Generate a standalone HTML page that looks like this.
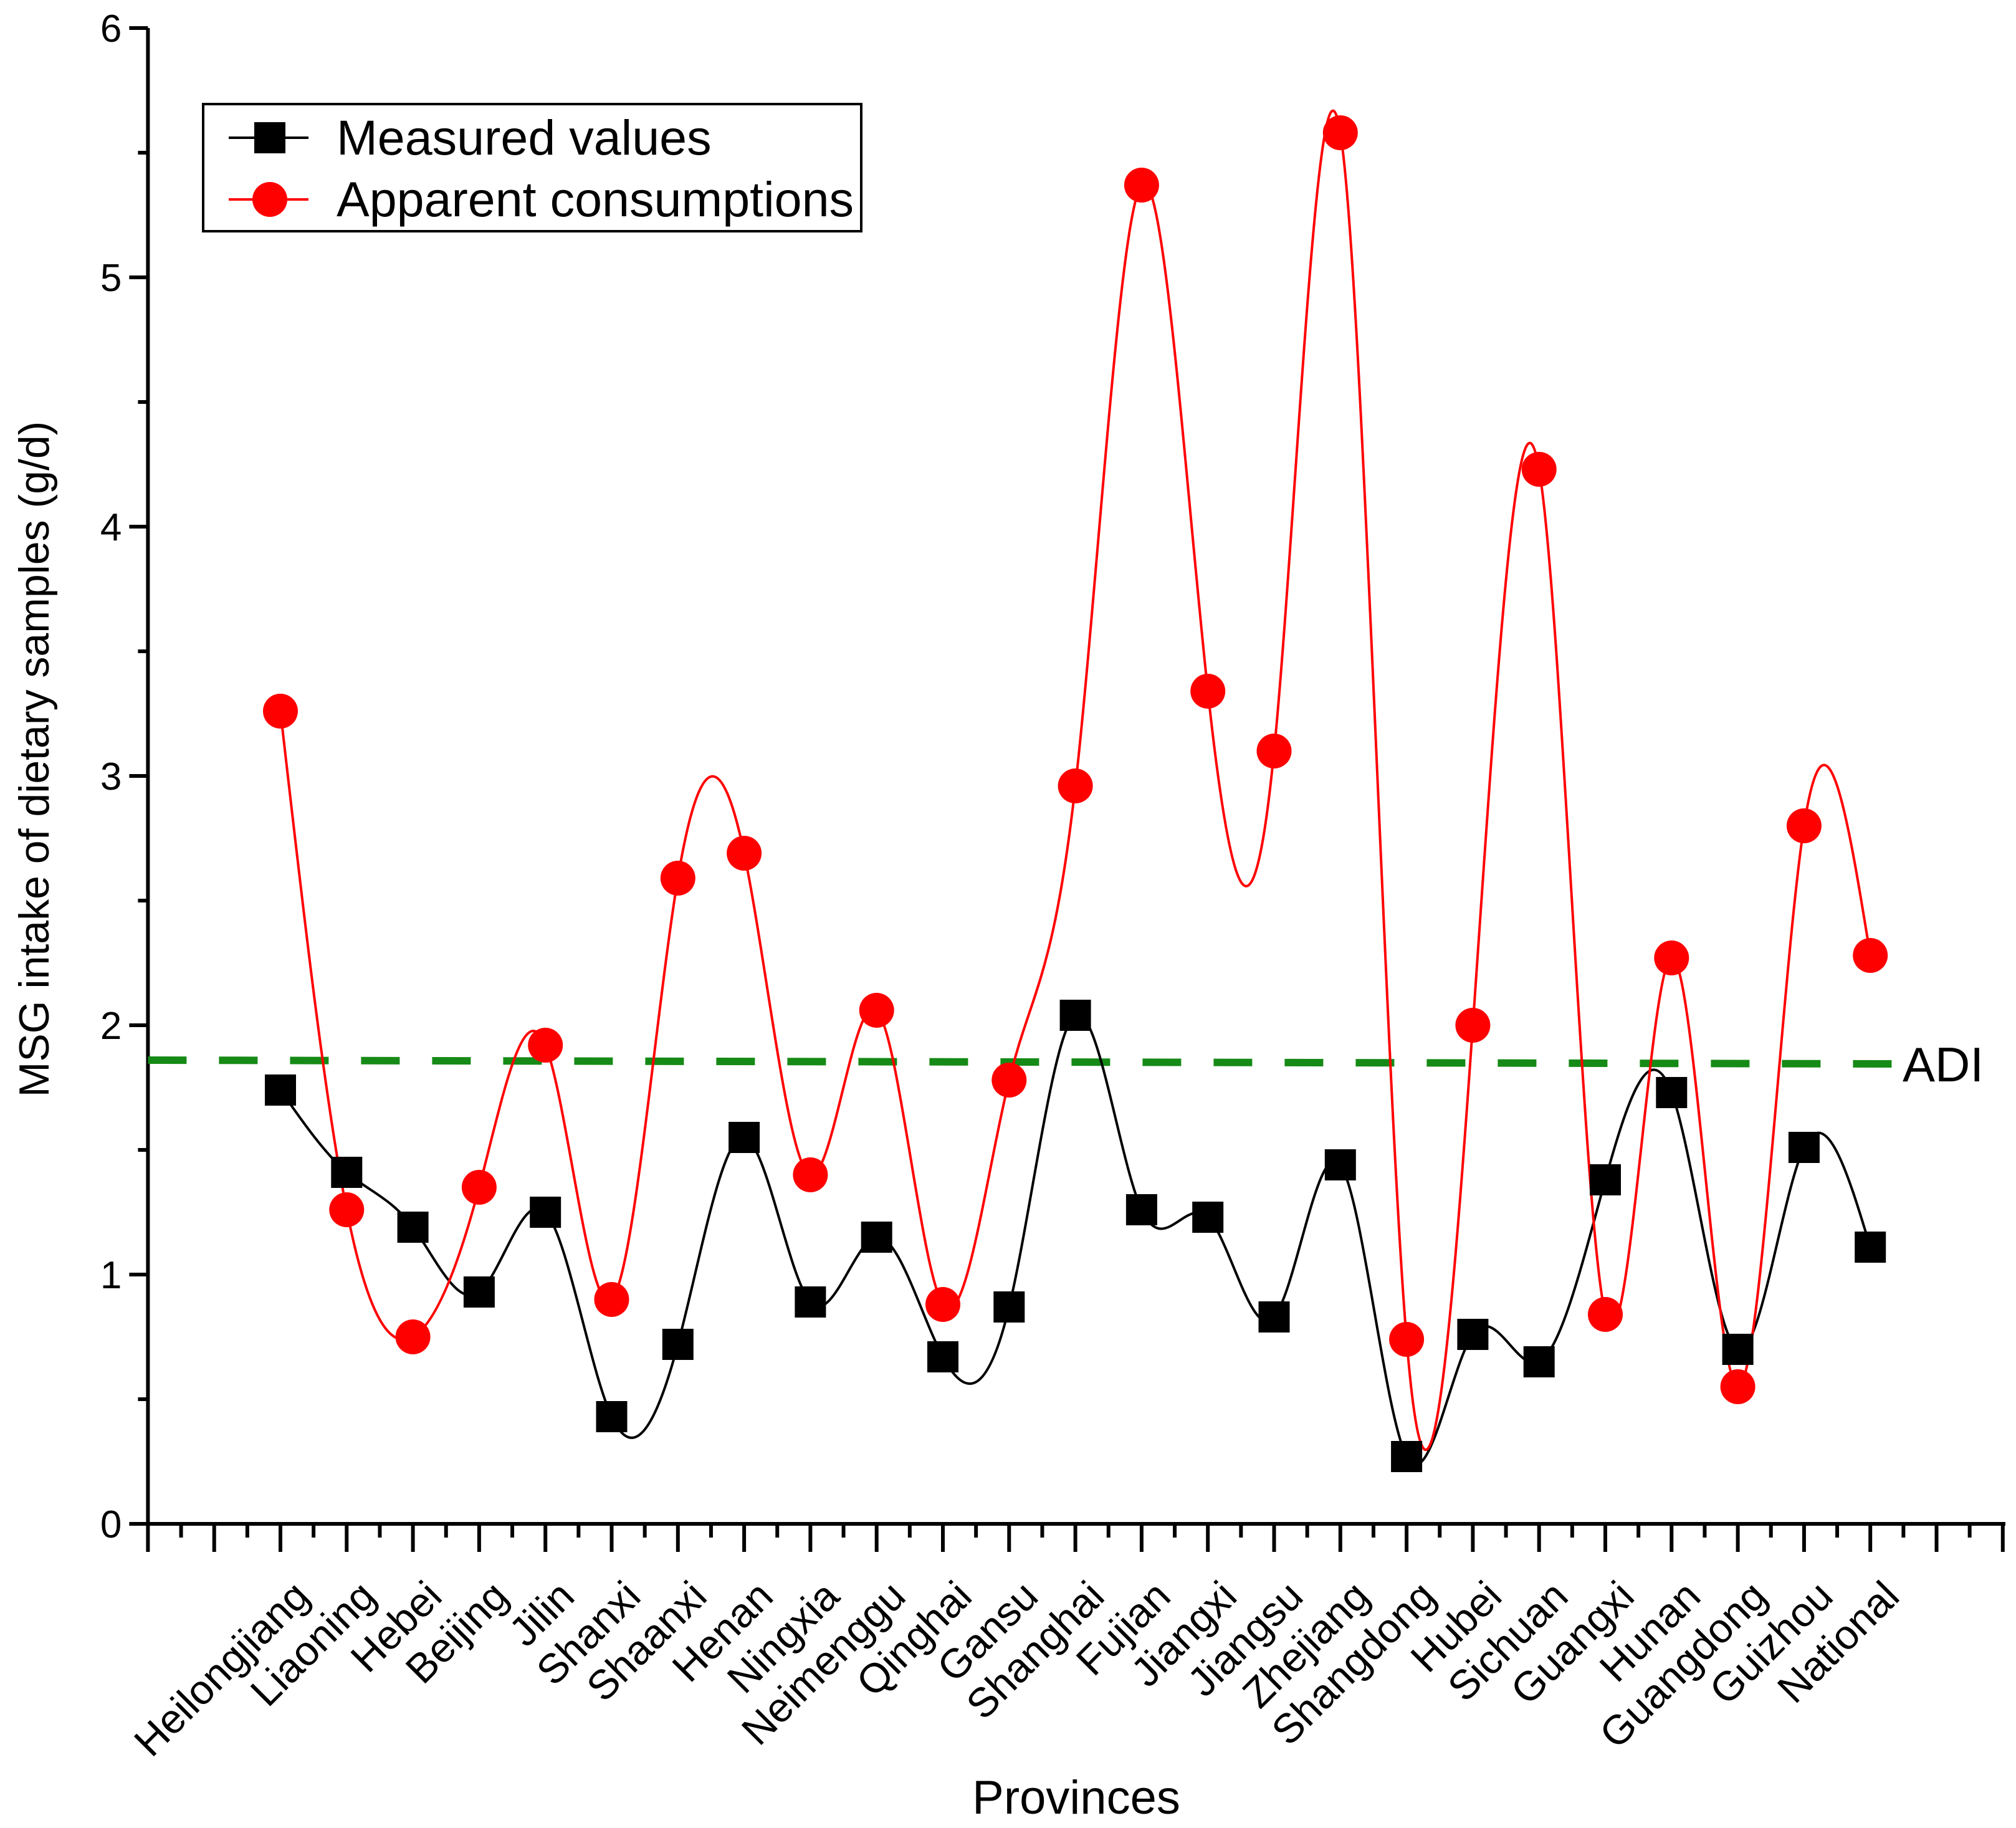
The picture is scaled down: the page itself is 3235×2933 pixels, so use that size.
<!DOCTYPE html>
<html><head><meta charset="utf-8"><style>
html,body{margin:0;padding:0;background:#fff}
svg{display:block}
text{font-family:"Liberation Sans",Arial,sans-serif;fill:#000}
</style></head><body>
<svg id="chart" width="3235" height="2933" viewBox="0 0 3235 2933" xmlns="http://www.w3.org/2000/svg">
<g id="plot"></g>
</svg>
<script>
const categories=["Heilongjiang","Liaoning","Hebei","Beijing","Jilin","Shanxi","Shaanxi","Henan","Ningxia","Neimenggu","Qinghai","Gansu","Shanghai","Fujian","Jiangxi","Jiangsu","Zhejiang","Shangdong","Hubei","Sichuan","Guangxi","Hunan","Guangdong","Guizhou","National"];
const measured=[1.74,1.41,1.19,0.93,1.25,0.43,0.72,1.55,0.89,1.15,0.67,0.87,2.04,1.26,1.23,0.83,1.44,0.27,0.76,0.65,1.38,1.73,0.70,1.51,1.11];
const apparent=[3.26,1.26,0.75,1.35,1.92,0.90,2.59,2.69,1.40,2.06,0.88,1.78,2.96,5.37,3.34,3.10,5.58,0.74,2.00,4.23,0.84,2.27,0.55,2.80,2.28];
const yTicks=[0,1,2,3,4,5,6];
const adiStart=1.86, adiEnd=1.845;

const NS="http://www.w3.org/2000/svg";
const g=document.getElementById('plot');
const SP=106.3;
const X0=450-2*SP,Y0=2445,YTOP=45,XR=3218;
const xs=i=>450+i*SP;
const ys=v=>Y0-v*(Y0-YTOP)/6;
function el(tag,attrs,parent){const e=document.createElementNS(NS,tag);for(const k in attrs)e.setAttribute(k,attrs[k]);(parent||g).appendChild(e);return e;}

// axes
let ax=el('line',{x1:X0,y1:YTOP,x2:X0,y2:Y0+3,stroke:'#000','stroke-width':6});


ax=el('line',{x1:X0-3,y1:Y0,x2:XR,y2:Y0,stroke:'#000','stroke-width':6});


// y ticks
yTicks.forEach(v=>{
  let t=el('line',{x1:X0-30,y1:ys(v),x2:X0,y2:ys(v),stroke:'#000','stroke-width':6});
  
  
  if(v<6){let m=el('line',{x1:X0-16,y1:ys(v+0.5),x2:X0,y2:ys(v+0.5),stroke:'#000','stroke-width':6});
  
  }
  let l=el('text',{x:X0-42,y:ys(v)+22,'text-anchor':'end','font-size':62});
  l.textContent=v;
  
  
});
// x ticks
for(let k=0;X0+k*SP/2<=XR+1;k++){
  const x=X0+k*SP/2;
  const major=k%2===0;
  let t=el('line',{x1:x,y1:Y0,x2:x,y2:Y0+(major?45:22),stroke:'#000','stroke-width':6});
  
  
}
// x labels
categories.forEach((c,i)=>{
  const x=xs(i)+50,y=2565;
  let t=el('text',{x:x,y:y,'text-anchor':'end','font-size':66,transform:`rotate(-45 ${x} ${y})`});
  t.textContent=c;
  
  
});
// titles
let yt=el('text',{x:78,y:1218,'text-anchor':'middle','font-size':68,transform:'rotate(-90 78 1218)'});
yt.textContent='MSG intake of dietary samples (g/d)';


let xt=el('text',{x:1727,y:2910,'text-anchor':'middle','font-size':76});
xt.textContent='Provinces';



// ADI line
let adi=el('line',{x1:X0,y1:ys(adiStart),x2:3045,y2:ys(adiEnd),stroke:'#168a16','stroke-width':12,'stroke-dasharray':'62 52'});


let adil=el('text',{x:3053,y:ys(adiEnd)+28,'font-size':78});
adil.textContent='ADI';



// natural cubic spline
function spline(vals){
  const n=vals.length, y=vals.map(ys), h=SP;
  const M=new Array(n).fill(0);
  const a=[],b=[],c=[],d=[];
  for(let i=1;i<n-1;i++){a.push(1);b.push(4);c.push(1);d.push(6*(y[i+1]-2*y[i]+y[i-1])/(h*h));}
  const m=d.length;
  for(let i=1;i<m;i++){const w=a[i]/b[i-1];b[i]-=w*c[i-1];d[i]-=w*d[i-1];}
  const sol=new Array(m);
  sol[m-1]=d[m-1]/b[m-1];
  for(let i=m-2;i>=0;i--)sol[i]=(d[i]-c[i]*sol[i+1])/b[i];
  for(let i=0;i<m;i++)M[i+1]=sol[i];
  let path=`M${xs(0)},${y[0]}`;
  for(let i=0;i<n-1;i++){
    const s0=(y[i+1]-y[i])/h - h*(2*M[i]+M[i+1])/6;
    const s1=(y[i+1]-y[i])/h + h*(M[i]+2*M[i+1])/6;
    const x0=xs(i),x1=xs(i+1);
    path+=` C${x0+h/3},${y[i]+s0*h/3} ${x1-h/3},${y[i+1]-s1*h/3} ${x1},${y[i+1]}`;
  }
  return path;
}
let l1=el('path',{d:spline(measured),fill:'none',stroke:'#000','stroke-width':4});


let l2=el('path',{d:spline(apparent),fill:'none',stroke:'#f00','stroke-width':4});


measured.forEach((v,i)=>{
  let r=el('rect',{x:xs(i)-25,y:ys(v)-25,width:50,height:50,fill:'#000'});
  
  
});
apparent.forEach((v,i)=>{
  let c=el('circle',{cx:xs(i),cy:ys(v),r:28,fill:'#f00'});
  
  
});

// legend
const lg=el('g',{});


el('rect',{x:326,y:167,width:1056,height:204,fill:'#fff',stroke:'#000','stroke-width':4},lg);
el('line',{x1:367,y1:221,x2:495,y2:221,stroke:'#000','stroke-width':4},lg);
el('rect',{x:408,y:196,width:50,height:50,fill:'#000'},lg);
let t1=el('text',{x:540,y:248,'font-size':79},lg);
t1.textContent='Measured values';


el('line',{x1:367,y1:320,x2:495,y2:320,stroke:'#f00','stroke-width':4},lg);
el('circle',{cx:433,cy:320,r:28,fill:'#f00'},lg);
let t2=el('text',{x:540,y:347,'font-size':79},lg);
t2.textContent='Apparent consumptions';


</script>
</body></html>
